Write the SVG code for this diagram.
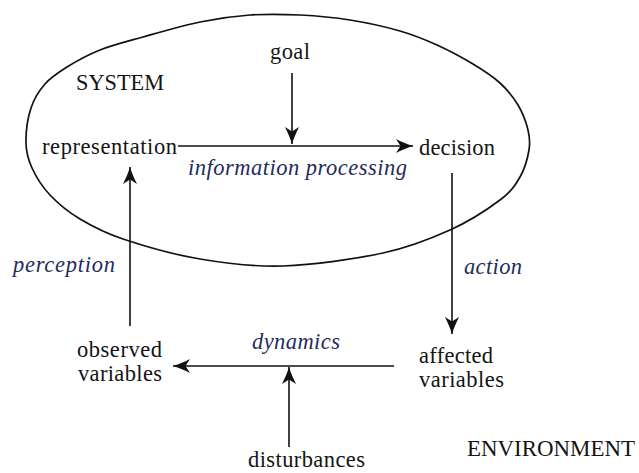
<svg xmlns="http://www.w3.org/2000/svg" width="639" height="473" viewBox="0 0 639 473">
  <style>
    text { font-family: "Liberation Serif", "Times New Roman", serif; font-size: 22.5px; }
    .t { fill: #141414; }
    .it { font-style: italic; fill: #1f2c5c; }
    .edge { stroke: #111; stroke-width: 1.6; fill: none; }
    .boundary { stroke: #111; stroke-width: 1.7; fill: none; stroke-linejoin: round; }
  </style>
  <defs>
    <marker id="arrow" viewBox="-19 -8 20 16" refX="0" refY="0" markerWidth="20" markerHeight="16" markerUnits="userSpaceOnUse" orient="auto">
      <path d="M0,0 C-6,-1.8 -12,-4.5 -17,-7 L-12.5,0 L-17,7 C-12,4.5 -6,1.8 0,0 Z" fill="#111"/>
    </marker>
  </defs>

  <rect width="639" height="473" fill="#fff"/>

  <!-- hand-drawn system boundary -->
  <g id="system-boundary">
    <path class="boundary" d="M26,143 C25.8,133 27.8,117.8 31,108 C34.2,98.2 39,90.8 45,84 C51,77.2 57.8,72.7 67,67 C76.2,61.3 87.3,55 100,50 C112.7,45 126.3,41.7 143,37 C159.7,32.3 182.2,25.7 200,22 C217.8,18.3 233.3,16.2 250,15 C266.7,13.8 283.3,14.2 300,15 C316.7,15.8 333.3,17.3 350,20 C366.7,22.7 385.5,26.8 400,31 C414.5,35.2 424.8,39.5 437,45 C449.2,50.5 462.5,57.7 473,64 C483.5,70.3 492.5,76.2 500,83 C507.5,89.8 513.3,97.2 518,105 C522.7,112.8 526.2,122.5 528,130 C529.8,137.5 530.3,142.2 529,150 C527.7,157.8 524.8,168.7 520,177 C515.2,185.3 511.7,191.2 500,200 C488.3,208.8 469.5,221.2 450,230 C430.5,238.8 410.8,247 383,253 C355.2,259 313.5,265 283,266 C252.5,267 226.7,263.5 200,259 C173.3,254.5 143,245.7 123,239 C103,232.3 92.2,226.3 80,219 C67.8,211.7 58,203.5 50,195 C42,186.5 36,176.7 32,168 C28,159.3 26.2,153 26,143 Z"/>
    <text class="t" x="76" y="90" textLength="88" lengthAdjust="spacingAndGlyphs">SYSTEM</text>
  </g>

  <g id="environment-label">
    <text class="t" x="467" y="456" textLength="168" lengthAdjust="spacingAndGlyphs">ENVIRONMENT</text>
  </g>

  <!-- nodes -->
  <g id="node-goal"><text class="t" x="270" y="59" textLength="40">goal</text></g>
  <g id="node-representation"><text class="t" x="42" y="154" textLength="135">representation</text></g>
  <g id="node-decision"><text class="t" x="419" y="155" textLength="76">decision</text></g>
  <g id="node-observed">
    <text class="t" x="77" y="357" textLength="85">observed</text>
    <text class="t" x="78" y="381" textLength="84">variables</text>
  </g>
  <g id="node-affected">
    <text class="t" x="419" y="363" textLength="74">affected</text>
    <text class="t" x="419" y="387" textLength="85">variables</text>
  </g>
  <g id="node-disturbances"><text class="t" x="248" y="467" textLength="117">disturbances</text></g>

  <!-- connectors -->
  <g id="connectors">
    <line class="edge" x1="178" y1="146" x2="413" y2="146" marker-end="url(#arrow)"/>
    <line class="edge" x1="292" y1="73" x2="292" y2="144" marker-end="url(#arrow)"/>
    <line class="edge" x1="452" y1="173" x2="452" y2="334" marker-end="url(#arrow)"/>
    <line class="edge" x1="394" y1="366" x2="173" y2="366" marker-end="url(#arrow)"/>
    <line class="edge" x1="289" y1="447" x2="289" y2="367" marker-end="url(#arrow)"/>
    <line class="edge" x1="130" y1="326" x2="130" y2="167" marker-end="url(#arrow)"/>
  </g>

  <!-- connector labels -->
  <g id="connector-labels">
    <text class="it" x="188" y="175" textLength="219">information processing</text>
    <text class="it" x="464" y="274" textLength="58">action</text>
    <text class="it" x="252" y="349" textLength="88">dynamics</text>
    <text class="it" x="13" y="272" textLength="102">perception</text>
  </g>
</svg>
